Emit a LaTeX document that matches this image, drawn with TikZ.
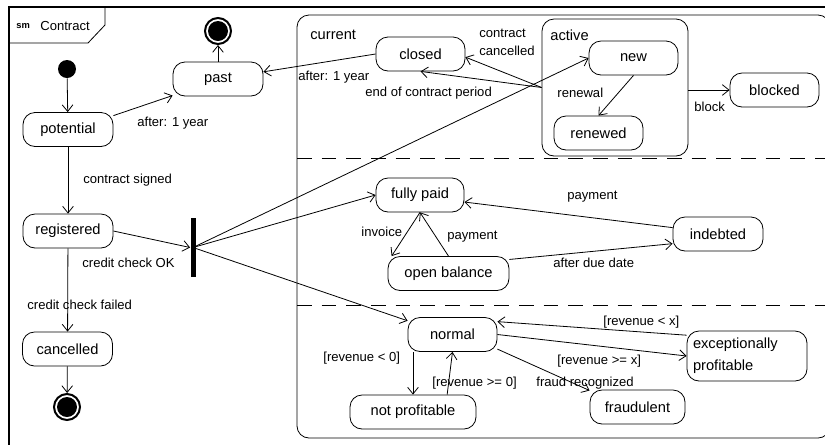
\documentclass[tikz,border=0pt]{standalone}
\usepackage{fontspec}
\setmainfont{Liberation Sans}
\usetikzlibrary{arrows.meta}

\begin{document}
\begin{tikzpicture}[x=0.75pt,y=-0.75pt,line width=0.6pt,
    >={Straight Barb[length=5pt,width=8pt]},
    state/.style={draw,rounded corners=9pt,inner sep=0pt,minimum height=25.5pt,
      font=\fontsize{11}{13}\selectfont},
    lbl/.style={anchor=west,inner sep=0pt,font=\fontsize{9.8}{11.5}\selectfont},
    region/.style={dash pattern=on 11pt off 7.5pt}]

      \useasboundingbox (0,0) rectangle (825,444);
      \clip (0,0) rectangle (825,444);

      % frame and its tab
      \draw[line width=0.8pt] (9,450) -- (9,7) -- (830,7);
      \draw (9,43) -- (88,43) -- (105,25) -- (105,7);
      \node[anchor=west,inner sep=0pt,font=\bfseries\fontsize{7}{8}\selectfont] (sm) at (16,26) {sm};
      \node[lbl] (title) at (40,26) {Contract};

      % composite state current with its three regions
      \draw[rounded corners=9pt] (297,15) rectangle (830,438);
      \draw[region] (297,158.5) -- (830,158.5);
      \draw[region] (297,305.5) -- (830,305.5);
      \node[lbl,font=\fontsize{11}{13}\selectfont] (cur) at (310,35) {current};

      \node[circle,fill,inner sep=0pt,minimum size=13.5pt] (1) at (67,69) {};
      \node[circle,draw,line width=1.5pt,inner sep=0pt,minimum size=19.5pt] (4) at (218,31) {};
      \node[circle,fill,inner sep=0pt,minimum size=15pt] (4i) at (218,31) {};
      \node[circle,draw,line width=1.5pt,inner sep=0pt,minimum size=19.5pt] (8) at (67,407) {};
      \node[circle,fill,inner sep=0pt,minimum size=15pt] (8i) at (67,407) {};
      \node[fill,inner sep=0pt,minimum width=3.75pt,minimum height=44.25pt] (6) at (193,247.5) {};

      \node[draw,rounded corners=9pt,minimum width=109.5pt,minimum height=102.75pt] (11) at (615,87.5) {};
      \node[lbl,font=\fontsize{11}{13}\selectfont] (act) at (550,35) {active};

      \begin{scope}[every node/.style={state}]
        \node[minimum width=67.5pt] (2)  at (68,129.5)  {potential};
        \node[minimum width=67.5pt] (3)  at (218,79)    {past};
        \node[minimum width=67.5pt] (5)  at (68,231)    {registered};
        \node[minimum width=67.5pt] (7)  at (67.5,349)  {cancelled};
        \node[minimum width=66.75pt] (10) at (420.5,54)  {closed};
        \node[minimum width=66.75pt] (12) at (633.5,58)  {new};
        \node[minimum width=66.75pt] (13) at (598.5,133) {renewed};
        \node[minimum width=66.75pt] (14) at (774.5,90)  {blocked};
        \node[minimum width=66pt]    (15) at (420,195)   {fully paid};
        \node[minimum width=90.75pt] (16) at (448.5,273.5) {open balance};
        \node[minimum width=67.5pt]  (17) at (718,234)   {indebted};
        \node[minimum width=66.75pt] (18) at (452.5,334.5) {normal};
        \node[minimum width=94.5pt]  (19) at (413,412)   {not profitable};
        \node[minimum width=90pt,minimum height=37.5pt,text width=81pt,align=left]
                                     (20) at (747,356)   {exceptionally\\[3.5pt]profitable};
        \node[minimum width=71.25pt] (21) at (637.5,407) {fraudulent};
      \end{scope}

      \begin{scope}[every edge/.style={draw,->}]
        \path (1)     edge (2);
        \path (2.17)  edge (3.200);
        \path (3)     edge (4);
        \path (2)     edge (5);
        \path (5.east) edge (6.west);
        \path (5)     edge (7);
        \path (7)     edge (8);
        \path (10.west) edge (3.9);
        \path (11.west) edge (10.-4);
        \path (11.west) edge (10.south);
        \path (6)     edge (12.west);
        \path (6)     edge (15.west);
        \path (6)     edge (18.163);
        \path (12.south) edge (13.north);
        \path (14.west -| 11.east) edge (14.west);
        \path (15.south) edge (16.163);
        \path (16.north) edge (15.south);
        \path (17.172) edge (15.-9);
        \path (16.13)  edge (17.192);
        \path (19.north |- 18.south) edge (19.north);
        \path (19.27)  edge (18.south);
        \path (20.161) edge (18.16);
        \path (18.east) edge (20.west);
        \path (18.-18) edge (21.161);
      \end{scope}

      \begin{scope}[every node/.style={lbl}]
        \node (l1)  at (137,123) {after: 1 year};
        \node (l2)  at (83,180)  {contract signed};
        \node (l3)  at (82,263)  {credit check OK};
        \node (l4)  at (27,305)  {credit check failed};
        \node (l5)  at (298,77)  {after: 1 year};
        \node[align=left] (l6) at (479,42.5) {contract\\[2.5pt]cancelled};
        \node (l7)  at (365,93)  {end of contract period};
        \node (l8)  at (557,93)  {renewal};
        \node (l9)  at (694,107) {block};
        \node (l10) at (361,232) {invoice};
        \node (l11) at (447,237) {payment};
        \node (l12) at (567,197) {payment};
        \node (l13) at (553,263) {after due date};
        \node (l14) at (323,358) {[revenue < 0]};
        \node (l15) at (432,383) {[revenue >= 0]};
        \node (l16) at (603,322) {[revenue < x]};
        \node (l17) at (557,361) {[revenue >= x]};
        \node (l18) at (536,383) {fraud recognized};
      \end{scope}

    \end{tikzpicture}
\end{document}
